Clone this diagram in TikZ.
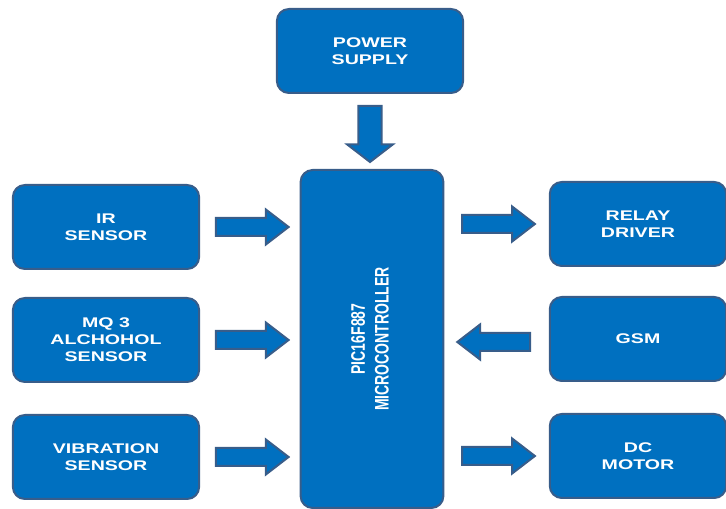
\documentclass[tikz,border=0pt]{standalone}
\usepackage{fontspec}
\setmainfont{Liberation Sans}
\usepackage{graphicx}
\usepackage{xcolor}
\definecolor{fillblue}{HTML}{0070C0}
\definecolor{edgeblue}{HTML}{385D8A}
\usetikzlibrary{shapes.arrows, calc}

\begin{document}
\begin{tikzpicture}[
	x=1pt, y=1pt,
	box/.style={rectangle, draw=edgeblue, line width=2pt, fill=fillblue, rounded corners=12pt,
	            align=center, text=white, font=\fontsize{14}{17}\selectfont\bfseries,
	            minimum width=133pt, minimum height=84pt, inner sep=0pt, xscale=1.4},
	rbox/.style={box, minimum width=126pt},
	fat/.style={single arrow, draw=edgeblue, line width=2pt, fill=fillblue, xscale=1.3,
	            minimum height=56pt, inner xsep=0pt, inner ysep=8pt, anchor=tail,
	            single arrow head extend=8.5pt, single arrow tip angle=90},
	fatdown/.style={fat, shape border rotate=270, inner xsep=8pt, inner ysep=0pt}
	]
	\useasboundingbox (0,0) rectangle (726,509);

	\node[box, minimum width=102pt, minimum height=338pt] (micro) at (372,170)
	    {\rotatebox{90}{\begin{tabular}{@{}c@{}}PIC16F887\\MICROCONTROLLER\end{tabular}}};
	\node[box] (power) at (370,458) {POWER\\SUPPLY};

	\node[box] (ir) at (106,282) {IR\\SENSOR};
	\node[box] (mq) at (106,169) {MQ 3\\ALCHOHOL\\SENSOR};
	\node[box] (vib) at (106,52) {VIBRATION\\SENSOR};

	\node[rbox] (relay) at (638,285) {RELAY\\DRIVER};
	\node[rbox] (gsm) at (638,170) {GSM};
	\node[rbox] (motor) at (638,53) {DC\\MOTOR};

	% block arrows between the boxes
	\node[fatdown] (pwrarr) at ($(power.south)+(0,-11)$) {};
	\node[fat] (irarr) at ($(ir.east)+(14,0)$) {};
	\node[fat] (mqarr) at ($(mq.east)+(14,0)$) {};
	\node[fat] (vibarr) at ($(vib.east)+(14,0)$) {};
	\node[fat] (relayarr) at ($(micro.east |- relay)+(16,0)$) {};
	\node[fat, shape border rotate=180] (gsmarr) at ($(gsm.west)+(-17,-3)$) {};
	\node[fat] (motorarr) at ($(micro.east |- motor)+(16,0)$) {};
\end{tikzpicture}
\end{document}
